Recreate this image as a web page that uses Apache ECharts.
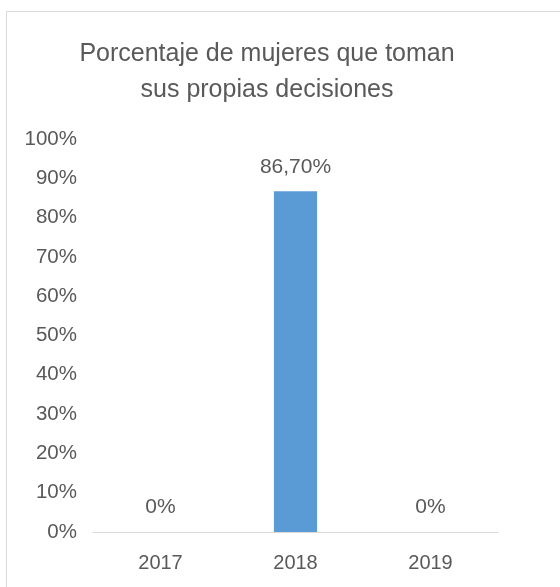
<!DOCTYPE html>
<html>
<head>
<meta charset="utf-8">
<script src="https://cdn.jsdelivr.net/npm/echarts@6/dist/echarts.min.js"></script>
<style>
html,body{margin:0;padding:0;background:#fff;}
#chart{width:560px;height:587px;}
</style>
</head>
<body>
<div id="chart"></div>
<script>
var categories = ['2017', '2018', '2019'];
var values = [0, 86.7, 0];
var yTicks = [0, 10, 20, 30, 40, 50, 60, 70, 80, 90, 100];
var titleText = 'Porcentaje de mujeres que toman\nsus propias decisiones';

var FONT = "'Liberation Sans', Arial, sans-serif";
var chart = echarts.init(document.getElementById('chart'), null, {renderer: 'canvas'});
chart.setOption({
  animation: false,
  backgroundColor: '#ffffff',
  graphic: [{
    type: 'rect',
    shape: {x: 6.5, y: 11.5, width: 700, height: 700},
    style: {fill: 'none', stroke: '#d9d9d9', lineWidth: 1},
    silent: true
  }],
  title: {
    text: titleText,
    left: 262,
    textAlign: 'center',
    top: 31,
    textStyle: {fontFamily: FONT, fontSize: 25, fontWeight: 'normal', color: '#595959', lineHeight: 36}
  },
  grid: {left: 93, right: 62, top: 139, bottom: 55, containLabel: false},
  xAxis: {
    type: 'category',
    data: categories,
    axisLine: {show: true, lineStyle: {color: '#d9d9d9', width: 1}},
    axisTick: {show: false},
    axisLabel: {fontFamily: FONT, fontSize: 20, color: '#595959', margin: 21}
  },
  yAxis: {
    type: 'value',
    min: yTicks[0],
    max: yTicks[yTicks.length - 1],
    interval: yTicks[1] - yTicks[0],
    splitLine: {show: false},
    axisLine: {show: false},
    axisTick: {show: false},
    axisLabel: {fontFamily: FONT, fontSize: 20.5, color: '#595959', margin: 16,
      formatter: function (v) { return v + '%'; }}
  },
  series: [{
    type: 'bar',
    data: values,
    barWidth: '32%',
    itemStyle: {color: '#5b9bd5'},
    label: {
      show: true,
      position: 'top',
      distance: 14,
      fontFamily: FONT, fontSize: 21, color: '#595959',
      formatter: function (p) {
        return p.value === 0 ? '0%' : p.value.toFixed(2).replace('.', ',') + '%';
      }
    }
  }]
});
</script>
</body>
</html>
